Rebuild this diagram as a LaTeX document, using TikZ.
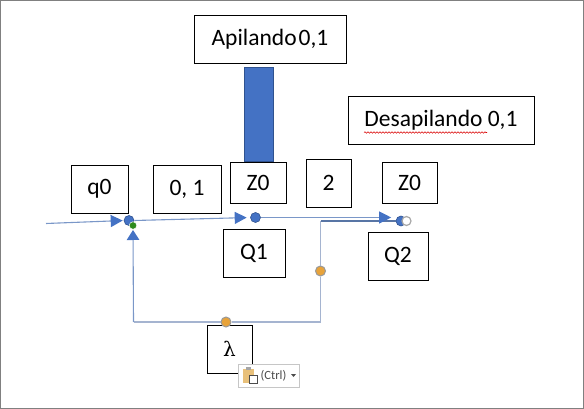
\documentclass[tikz,border=0pt]{standalone}
\usepackage{xcolor}
\usepackage{fontspec}
\setmainfont{Carlito}
\usetikzlibrary{arrows.meta, decorations.pathmorphing}
\definecolor{officeblue}{HTML}{4472C4}
\definecolor{officeline}{HTML}{2F528F}
\definecolor{wireblue}{HTML}{7A97C8}
\definecolor{loopgray}{HTML}{A5B4D0}
\definecolor{dotorange}{HTML}{E8A33A}
\definecolor{dotgreen}{HTML}{2E8B1E}
\definecolor{pasteedge}{HTML}{C6C6C6}
\definecolor{clipyellow}{HTML}{E8C07A}

\begin{document}
\begin{tikzpicture}[x=1pt,y=-1pt]
\tikzstyle{label} = [rectangle, draw=black, fill=white, line width=0.9pt, inner sep=0pt, text=black, font=\fontsize{23.5}{26}\selectfont]
\tikzstyle{wire} = [wireblue, line width=1.1pt]
\tikzstyle{arrow} = [wire, -{Triangle[length=12pt,width=12pt,fill=officeblue,color=officeblue]}]
\tikzstyle{dot} = [circle, inner sep=0pt, minimum size=10pt, fill=officeblue, draw=officeline, line width=0.6pt]
\tikzstyle{handle} = [circle, inner sep=0pt, minimum size=10pt, fill=dotorange, draw=gray!80, line width=1pt]

\useasboundingbox (0,0) rectangle (584,409);
\draw [gray, line width=1.2pt] (0.6,0.6) rectangle (583.4,408.4);

% boxes
\node (apilando) [label, minimum width=152pt, minimum height=48pt] at (270,39) {Apilando\kern2pt 0,1};
\node (desapilando) [label, minimum width=186pt, minimum height=48pt] at (441,120) {Desapilando 0,1};
\node (q0) [label, minimum width=57pt, minimum height=48pt] at (99.5,189) {q0};
\node (symbols) [label, minimum width=68pt, minimum height=48pt] at (187,189) {0, 1};
\node (z0a) [label, minimum width=56pt, minimum height=41pt] at (258,182.5) {Z0};
\node (two) [label, minimum width=45pt, minimum height=48pt] at (328.5,183) {2};
\node (z0b) [label, minimum width=55pt, minimum height=41pt] at (409.5,182.5) {Z0};
\node (q1) [label, minimum width=62pt, minimum height=48pt] at (254,253) {Q1};
\node (q2) [label, minimum width=60pt, minimum height=48pt] at (398,256) {Q2};
\node (lambda) [label, minimum width=45pt, minimum height=48pt] at (229.5,349) {\fontspec{DejaVu Serif}\fontsize{20}{22}\selectfont λ};

% stack bar
\node (bar) [rectangle, fill=officeblue, draw=officeline, line width=1pt, minimum width=29pt, minimum height=94pt, inner sep=0pt] at (259,115) {};

% spell check line
\coordinate (wavya) at (364,132.5);
\coordinate (wavyb) at (487,132.5);
\draw [red!85!black, line width=0.6pt, decorate, decoration={snake, amplitude=0.7pt, segment length=3pt}] (wavya) -- (wavyb);

% states
\node (start) [dot] at (129,220.5) {};
\node (green) [circle, inner sep=0pt, minimum size=7.5pt, fill=dotgreen, draw=white, line width=0.5pt] at (133,225.5) {};
\node (mid) [dot] at (255.5,217.5) {};
\node (end) [dot] at (401,221) {};
\node (endwhite) [circle, inner sep=0pt, minimum size=9pt, fill=white, draw=gray!70, line width=1.2pt] at (406.5,221) {};
\node (handleright) [handle] at (320.5,271) {};
\node (handlebottom) [handle] at (226,322) {};

\coordinate (entry) at (46,223.5);
\coordinate (corner) at (320.5,322);
\coordinate (cornerleft) at (133.5,322);
\coordinate (cornertop) at (320.5,221);

% connectors
\draw [arrow, shorten >=1pt] (entry) -- (start.west);
\draw [arrow, shorten >=3.5pt] (start.east) -- (mid.west);
\draw [wire, officeline!80] (cornertop) -- (end.west);
\draw [arrow, shorten >=4.5pt] (mid.east) -- (mid.east -| end.west);
\draw [wire, loopgray, line width=1.5pt] (cornertop) -- (handleright) -- (corner) -- (handlebottom) -- (cornerleft);
\draw [wire, shorten >=0.5pt, -{Triangle[length=10pt,width=12.5pt,fill=officeblue,color=officeblue]}] (cornerleft) -- (green.south);

% paste button
\node (paste) [rectangle, draw=pasteedge, fill=white, line width=0.9pt, minimum width=61pt, minimum height=23pt, inner sep=0pt, font=\fontsize{12.5}{15}\selectfont, text=black!70] at (268.5,375.5) {\hspace*{10pt}(Ctrl)};
\draw [fill=clipyellow, draw=none] (242.5,369) rectangle (254,383);
\draw [fill=gray!70, draw=none] (245.5,367) rectangle (251,370);
\draw [fill=white, draw=black!70, line width=0.6pt] (249.5,375) rectangle (257,383);
\fill [black!70] (291,374) -- (296,374) -- (293.5,377) -- cycle;
\end{tikzpicture}
\end{document}
